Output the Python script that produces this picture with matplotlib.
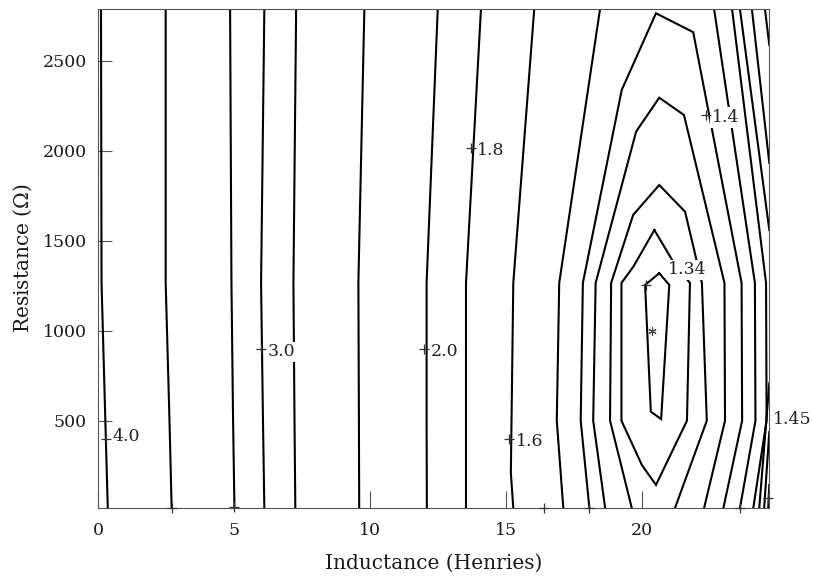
import matplotlib.pyplot as plt

plt.rcParams['font.family'] = 'DejaVu Serif'
plt.rcParams['mathtext.fontset'] = 'dejavuserif'
plt.rcParams['font.size'] = 12.5

# ---- contour lines of the fit error over (inductance, resistance) ----
# nearly vertical contours, sampled on the resistance rows below
edge_R = [2785, 1265, 500, 15]
line_40 = [0.11, 0.13, 0.27, 0.36]
line_37 = [2.49, 2.49, 2.63, 2.71]
line_33 = [4.86, 4.91, 4.97, 5.02]
line_30 = [6.12, 6.00, 6.07, 6.12]
line_27 = [7.29, 7.19, 7.23, 7.26]
line_23 = [9.80, 9.58, 9.60, 9.61]
line_20 = [12.50, 12.09, 12.09, 12.10]
line_18 = [14.09, 13.54, 13.54, 13.54]
line_15 = [18.47, 16.97, 16.88, 17.12]
right_15 = [22.67, 24.17, 24.19, 23.62]
right_16 = [23.33, 24.58, 24.60, 24.11]

line_16_L = [16.05, 15.28, 15.19, 15.28]
line_16_R = [2785, 1265, 210, 15]

# arches that open onto the bottom edge
arch_14_L = [18.08, 17.76, 17.84, 19.27, 20.53, 21.90, 23.68, 23.70, 23.01]
arch_14_R = [15, 500, 1265, 2337, 2763, 2658, 1265, 500, 15]
arch_138_L = [18.66, 18.22, 18.31, 19.80, 20.65, 21.56, 23.05, 23.07, 22.30]
arch_138_R = [15, 500, 1265, 2106, 2294, 2198, 1265, 500, 15]
arch_136_L = [19.64, 18.84, 18.88, 19.69, 20.65, 21.60, 22.22, 22.40, 21.23]
arch_136_R = [15, 500, 1265, 1643, 1809, 1661, 1265, 500, 15]

# closed loops around the minimum
loop_135_L = [20.47, 21.19, 21.78, 21.67, 20.53, 20.01, 19.26, 19.26, 19.70, 20.47]
loop_135_R = [1559, 1376, 1265, 500, 143, 254, 500, 1265, 1356, 1559]
loop_134_L = [20.65, 21.02, 20.72, 20.34, 20.13, 20.65]
loop_134_R = [1319, 1254, 509, 550, 1254, 1319]

# steep contours leaving / entering through the right edge
right_18_top = ([23.62, 24.70], [2785, 1559])
right_18_bot = ([24.70, 24.33], [709, 15])
right_20_top = ([24.06, 24.70], [2785, 1931])
right_20_bot = ([24.70, 24.51], [437, 15])
right_23_top = ([24.54, 24.70], [2785, 2587])
right_23_bot = ([24.70, 24.66], [143, 15])

# contour labels ("+" mark followed by the level)
label_text = ['4.0', '3.0', '2.0', '1.8', '1.6', '1.4']
label_L = [0.29, 6.00, 12.00, 13.73, 15.13, 22.37]
label_R = [397, 897, 897, 2017, 397, 2198]
label_dy = [-1.5, -5.2, -5.2, -5.2, -5.2, -5.2]

# label marks whose text falls outside the plotting area
extra_mark_L = [2.71, 5.02, 16.40, 18.08, 23.62, 24.66, 20.16]
extra_mark_R = [15, 19, 15, 15, 15, 71, 1254]

# minimum of the error surface
best_L = [20.38]
best_R = [1000]

fig = plt.figure(figsize=(8.14, 5.78), dpi=100)
ax = fig.add_axes([0.1204, 0.1211, 0.8247, 0.8628])

line_kw = dict(color='black', lw=1.5, solid_joinstyle='miter')
for L in [line_40, line_37, line_33, line_30, line_27, line_23, line_20,
          line_18, line_15, right_15, right_16]:
    ax.plot(L, edge_R, **line_kw)
ax.plot(line_16_L, line_16_R, **line_kw)
for L, R in [(arch_14_L, arch_14_R), (arch_138_L, arch_138_R),
             (arch_136_L, arch_136_R), (loop_135_L, loop_135_R),
             (loop_134_L, loop_134_R)]:
    ax.plot(L, R, **line_kw)
for L, R in [right_18_top, right_18_bot, right_20_top, right_20_bot,
             right_23_top, right_23_bot]:
    ax.plot(L, R, **line_kw)

box = dict(boxstyle='square,pad=0.1', fc='white', ec='none')
for txt, L, R, dy in zip(label_text, label_L, label_R, label_dy):
    ax.annotate(txt, (L, R), xytext=(4.5, dy), textcoords='offset points',
                ha='left', va='baseline', color='#222222', bbox=box, zorder=3)
ax.plot(label_L, label_R, ls='none', marker='+', ms=7, mew=0.9,
        color='#333333', zorder=4, clip_on=False)
ax.plot(extra_mark_L, extra_mark_R, ls='none', marker='+', ms=7, mew=0.9,
        color='#333333', zorder=4, clip_on=False)

ax.text(20.97, 1337, '1.34', ha='left', va='center', color='#222222',
        bbox=box, zorder=3)
ax.text(24.84, 504, '1.45', ha='left', va='center', color='#222222',
        zorder=3)

ax.plot(best_L, best_R, ls='none', marker=(6, 2, 0), ms=6, mew=0.8,
        color='#444444', zorder=4)

ax.set_xlim(0, 24.7)
ax.set_ylim(15, 2785)
ax.set_xticks([0, 5, 10, 15, 20])
ax.set_yticks([500, 1000, 1500, 2000, 2500])
ax.tick_params(axis='x', direction='in', length=12, width=0.8,
               color='#555555', pad=10, labelcolor='#1a1a1a')
ax.tick_params(axis='y', direction='in', length=10, width=0.8,
               color='#555555', pad=8, labelcolor='#1a1a1a')
for s in ax.spines.values():
    s.set_color('#555555')
    s.set_linewidth(0.8)

ax.set_xlabel('Inductance (Henries)', fontsize=14.5, labelpad=11,
              color='#1a1a1a')
ax.set_ylabel(r'Resistance ($\mathit{\Omega}$)', fontsize=14.5, labelpad=6,
              color='#1a1a1a')

fig.savefig('out.png', dpi=100)
